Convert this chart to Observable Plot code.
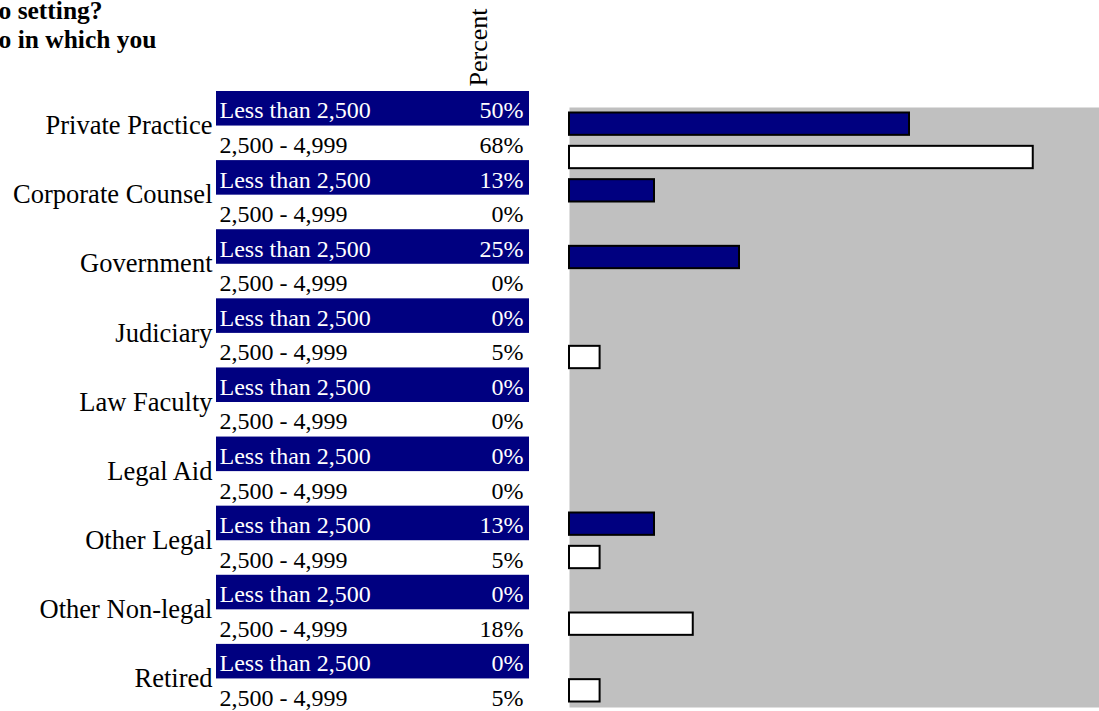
<!DOCTYPE html>
<html><head><meta charset="utf-8">
<script src="https://cdn.jsdelivr.net/npm/d3@7"></script>
<script src="https://cdn.jsdelivr.net/npm/@observablehq/plot@0.6"></script>
<style>
body{margin:0;background:#fff}
#chart{display:flex;width:1099px;height:711px;overflow:hidden}
#chart svg{display:block;flex:none}
</style>
</head><body><div id="chart"></div>
<script>
const categories = ["Private Practice", "Corporate Counsel", "Government", "Judiciary", "Law Faculty", "Legal Aid", "Other Legal", "Other Non-legal", "Retired"];
const groups = ["Less than 2,500", "2,500 - 4,999"];
const lessThan2500 = [50, 12.5, 25, 0, 0, 0, 12.5, 0, 0];
const from2500to4999 = [68.2, 0, 0, 4.5, 0, 0, 4.5, 18.2, 4.5];
const titleLines = ["o setting?", "o in which you"];
const axisLabel = "Percent";

const serif = "'Liberation Serif', 'Times New Roman', Times, serif";
const navy = "#000080";
const rows = categories.flatMap((c, i) => [
  {key: i + "a", category: c, group: groups[0], value: lessThan2500[i], blue: true},
  {key: i + "b", category: c, group: groups[1], value: from2500to4999[i], blue: false}
]);
const keys = rows.map(d => d.key);
const blueRows = rows.filter(d => d.blue);
const whiteRows = rows.filter(d => !d.blue);
const fmt = v => Math.round(v) + "%";

const table = Plot.plot({
  width: 568, height: 711,
  marginLeft: 216, marginRight: 39, marginTop: 0, marginBottom: 0,
  style: {fontFamily: serif, background: "white", color: "black"},
  x: {domain: [0, 1], axis: null},
  y: {domain: keys, range: [91, 713], padding: 0, round: false, axis: null},
  marks: [
    Plot.barX(blueRows, {x1: 0, x2: 1, y: "key", fill: navy}),
    Plot.text(blueRows, {x: 0, y: "key", text: "group", textAnchor: "start", dx: 3, dy: 2, fill: "white", fontSize: 24}),
    Plot.text(blueRows, {x: 1, y: "key", text: d => fmt(d.value), textAnchor: "end", dx: -6, dy: 2, fill: "white", fontSize: 24}),
    Plot.text(whiteRows, {x: 0, y: "key", text: "group", textAnchor: "start", dx: 3, dy: 2, fill: "black", fontSize: 24}),
    Plot.text(whiteRows, {x: 1, y: "key", text: d => fmt(d.value), textAnchor: "end", dx: -6, dy: 2, fill: "black", fontSize: 24}),
    Plot.text(blueRows, {x: 0, y: "key", text: "category", textAnchor: "end", dx: -4, dy: 17, fill: "black", fontSize: 26.5}),
    Plot.text([axisLabel], {text: d => d, frameAnchor: "top-right", rotate: -90, textAnchor: "start", dx: -61, dy: 86, fill: "black", fontSize: 26}),
    Plot.text([titleLines.join("\n")], {text: d => d, frameAnchor: "top-left", textAnchor: "start", lineAnchor: "top", dx: -218, dy: -2, fill: "black", fontSize: 25.5, fontWeight: "bold", lineHeight: 1.14})
  ]
});

const bars = Plot.plot({
  width: 531, height: 711,
  marginLeft: 1, marginRight: 0, marginTop: 107, marginBottom: 4,
  style: {background: "white"},
  x: {domain: [0, 530 / 6.8], axis: null},
  y: {domain: keys, padding: 0, round: false, axis: null},
  marks: [
    Plot.frame({fill: "#c0c0c0", stroke: "none"}),
    Plot.barX(rows.filter(d => d.value > 0), {
      x: "value", y: "key",
      fill: d => d.blue ? navy : "white",
      stroke: "black", strokeWidth: 2,
      insetTop: 5.5, insetBottom: 5.5
    })
  ]
});

const chart = document.getElementById("chart");
chart.appendChild(table);
chart.appendChild(bars);
</script>
</body></html>
